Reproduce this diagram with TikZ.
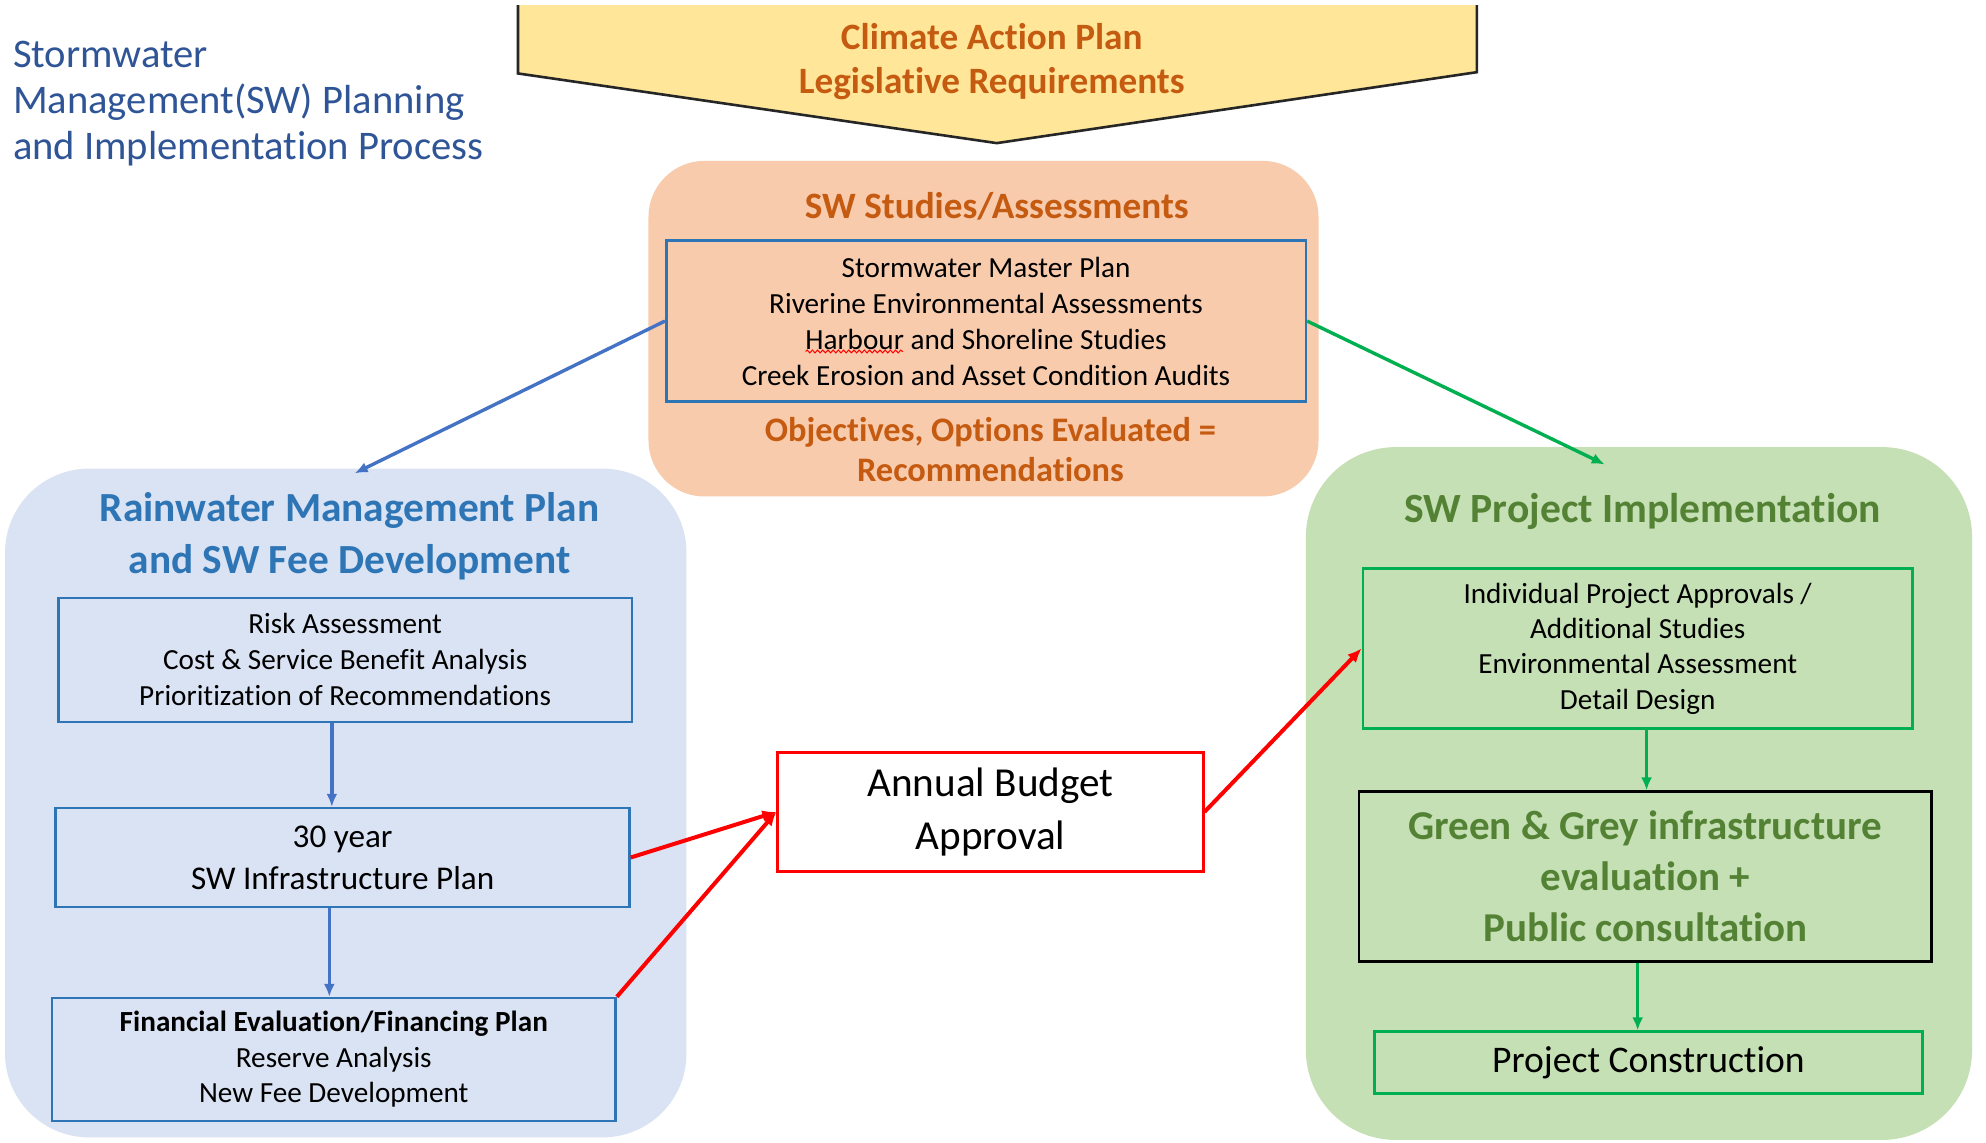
\documentclass[tikz,border=0pt]{standalone}
\usepackage{fontspec}
\setmainfont{Carlito}[Ligatures={NoCommon}]
\usetikzlibrary{arrows.meta,calc,decorations.pathmorphing}
\definecolor{titleblue}{RGB}{47,85,151}
\definecolor{yelfill}{RGB}{255,230,153}
\definecolor{orgtext}{RGB}{197,90,17}
\definecolor{orgfill}{RGB}{248,203,173}
\definecolor{bluefill}{RGB}{218,227,243}
\definecolor{bluetext}{RGB}{46,117,182}
\definecolor{boxblue}{RGB}{46,117,182}
\definecolor{arrblue}{RGB}{68,114,196}
\definecolor{greenfill}{RGB}{197,224,180}
\definecolor{greentext}{RGB}{84,130,53}
\definecolor{boxgreen}{RGB}{0,176,80}
\definecolor{redline}{RGB}{255,0,0}
\def\u{0.6333pt}
\tikzset{
  region/.style={inner sep=0pt, draw=none},
  bluebox/.style={draw=boxblue, line width=1.3pt, inner sep=0pt, align=center},
  greenbox/.style={draw=boxgreen, line width=1.3pt, inner sep=0pt, align=center},
  txt/.style={inner sep=0pt, align=center},
  barrow/.style={draw=arrblue, line width=1.7pt, -{Latex[length=6.5pt,width=5.5pt]}},
  garrow/.style={draw=boxgreen, line width=1.7pt, -{Latex[length=6.5pt,width=5.5pt]}},
  rarrow/.style={draw=redline, line width=2pt, -{Latex[length=7pt,width=6pt]}},
}
\begin{document}
\begin{tikzpicture}[x=0.6333pt,y=-0.6333pt]
\useasboundingbox (0,0) rectangle (1568,902);
\fill[white] (0,0) rectangle (1568,902);

% title
\node[txt, anchor=west, align=left, text=titleblue, font=\fontsize{20.3}{23.1}\selectfont] (title) at (10,82)
  {Stormwater\\Management(SW) Planning\\and Implementation Process};

% pentagon
\fill[yelfill] (409,4) -- (1166,4) -- (1166,57) -- (787,113) -- (409,58) -- cycle;
\draw[line width=1.3pt, draw=black!85] (409,4) -- (409,58) -- (787,113) -- (1166,57) -- (1166,4);
\node[txt, text=orgtext, font=\fontsize{18.6}{22.2}\selectfont\bfseries] (cap) at (783,48.5)
  {Climate Action Plan\\Legislative Requirements};

% regions
\node[region, fill=bluefill, rounded corners=42pt, minimum width=538*\u, minimum height=528*\u] (blueregion) at (273,634) {};
\node[region, fill=orgfill, rounded corners=28pt, minimum width=529*\u, minimum height=265*\u] (orgregion) at (776.5,259.5) {};
\node[region, fill=greenfill, rounded corners=45pt, minimum width=526*\u, minimum height=547*\u] (greenregion) at (1294,626.5) {};

% orange region content
\node[txt, text=orgtext, font=\fontsize{18.6}{22}\selectfont\bfseries] (swst) at (787,163) {SW Studies/Assessments};
\node[bluebox, minimum width=505*\u, minimum height=127*\u, font=\fontsize{14.6}{18}\selectfont] (studies) at (778.5,253.5)
  {Stormwater Master Plan\\Riverine Environmental Assessments\\Harbour and Shoreline Studies\\Creek Erosion and Asset Condition Audits};
\draw[redline, line width=0.5pt, decorate, decoration={snake, amplitude=0.7pt, segment length=2.6pt}] (636,277.5) -- (713,277.5);
\node[txt, text=orgtext, font=\fontsize{17.2}{20.3}\selectfont\bfseries] (obj) at (782,355)
  {Objectives, Options Evaluated =\\Recommendations};

% blue region content
\node[txt, text=bluetext, font=\fontsize{20.7}{26}\selectfont\bfseries] (rwtitle) at (276,423.5)
  {Rainwater Management Plan\\and SW Fee Development};
\node[bluebox, minimum width=453*\u, minimum height=98*\u, font=\fontsize{14.6}{18}\selectfont] (risk) at (272.5,521)
  {Risk Assessment\\Cost \& Service Benefit Analysis\\Prioritization of Recommendations};
\node[bluebox, minimum width=453*\u, minimum height=78*\u, font=\fontsize{16.6}{20.9}\selectfont] (infra) at (270.5,677)
  {30 year\\SW Infrastructure Plan};
\node[bluebox, minimum width=445*\u, minimum height=97*\u, font=\fontsize{14.6}{17.7}\selectfont] (fin) at (263.5,836.5)
  {\textbf{Financial Evaluation/Financing Plan}\\Reserve Analysis\\New Fee Development};

% budget
\node[draw=redline, fill=white, line width=1.3pt, inner sep=0pt, align=center, minimum width=336*\u, minimum height=94*\u, font=\fontsize{20.6}{26.6}\selectfont] (budget) at (782,641)
  {Annual Budget\\Approval};

% green region content
\node[txt, text=greentext, font=\fontsize{20.8}{26}\selectfont\bfseries] (gtitle) at (1297,404) {SW Project Implementation};
\node[greenbox, minimum width=434*\u, minimum height=126*\u, font=\fontsize{14.6}{17.7}\selectfont] (approvals) at (1293,512)
  {Individual Project Approvals /\\Additional Studies\\Environmental Assessment\\Detail Design};
\node[draw=black, line width=1.3pt, inner sep=0pt, align=center, text=greentext, minimum width=452*\u, minimum height=134*\u, font=\fontsize{20.5}{25.6}\selectfont\bfseries] (gge) at (1299,692)
  {Green \& Grey infrastructure\\evaluation +\\Public consultation};
\node[greenbox, minimum width=433*\u, minimum height=49*\u, font=\fontsize{18.8}{22}\selectfont] (constr) at (1301.5,839)
  {Project Construction};

% connectors
\coordinate (ax1) at (262,0);
\coordinate (ax2) at (260,0);
\coordinate (ax3) at (1300,0);
\coordinate (ax4) at (1293,0);
\draw[barrow] (studies.west) -- ($(blueregion.north)+(7,4)$);
\draw[garrow] (studies.east) -- ($(greenregion.north)+(-27,14)$);
\draw[barrow] (ax1 |- risk.south) -- (ax1 |- infra.north);
\draw[barrow] (ax2 |- infra.south) -- (ax2 |- fin.north);
\draw[garrow] (ax3 |- approvals.south) -- (ax3 |- gge.north);
\draw[garrow] (ax4 |- gge.south) -- (ax4 |- constr.north);
\draw[rarrow] (infra.east) -- (budget.west);
\draw[rarrow] (fin.north east) -- (budget.west);
\draw[rarrow] (budget.east) -- (approvals.west);
\end{tikzpicture}
\end{document}
